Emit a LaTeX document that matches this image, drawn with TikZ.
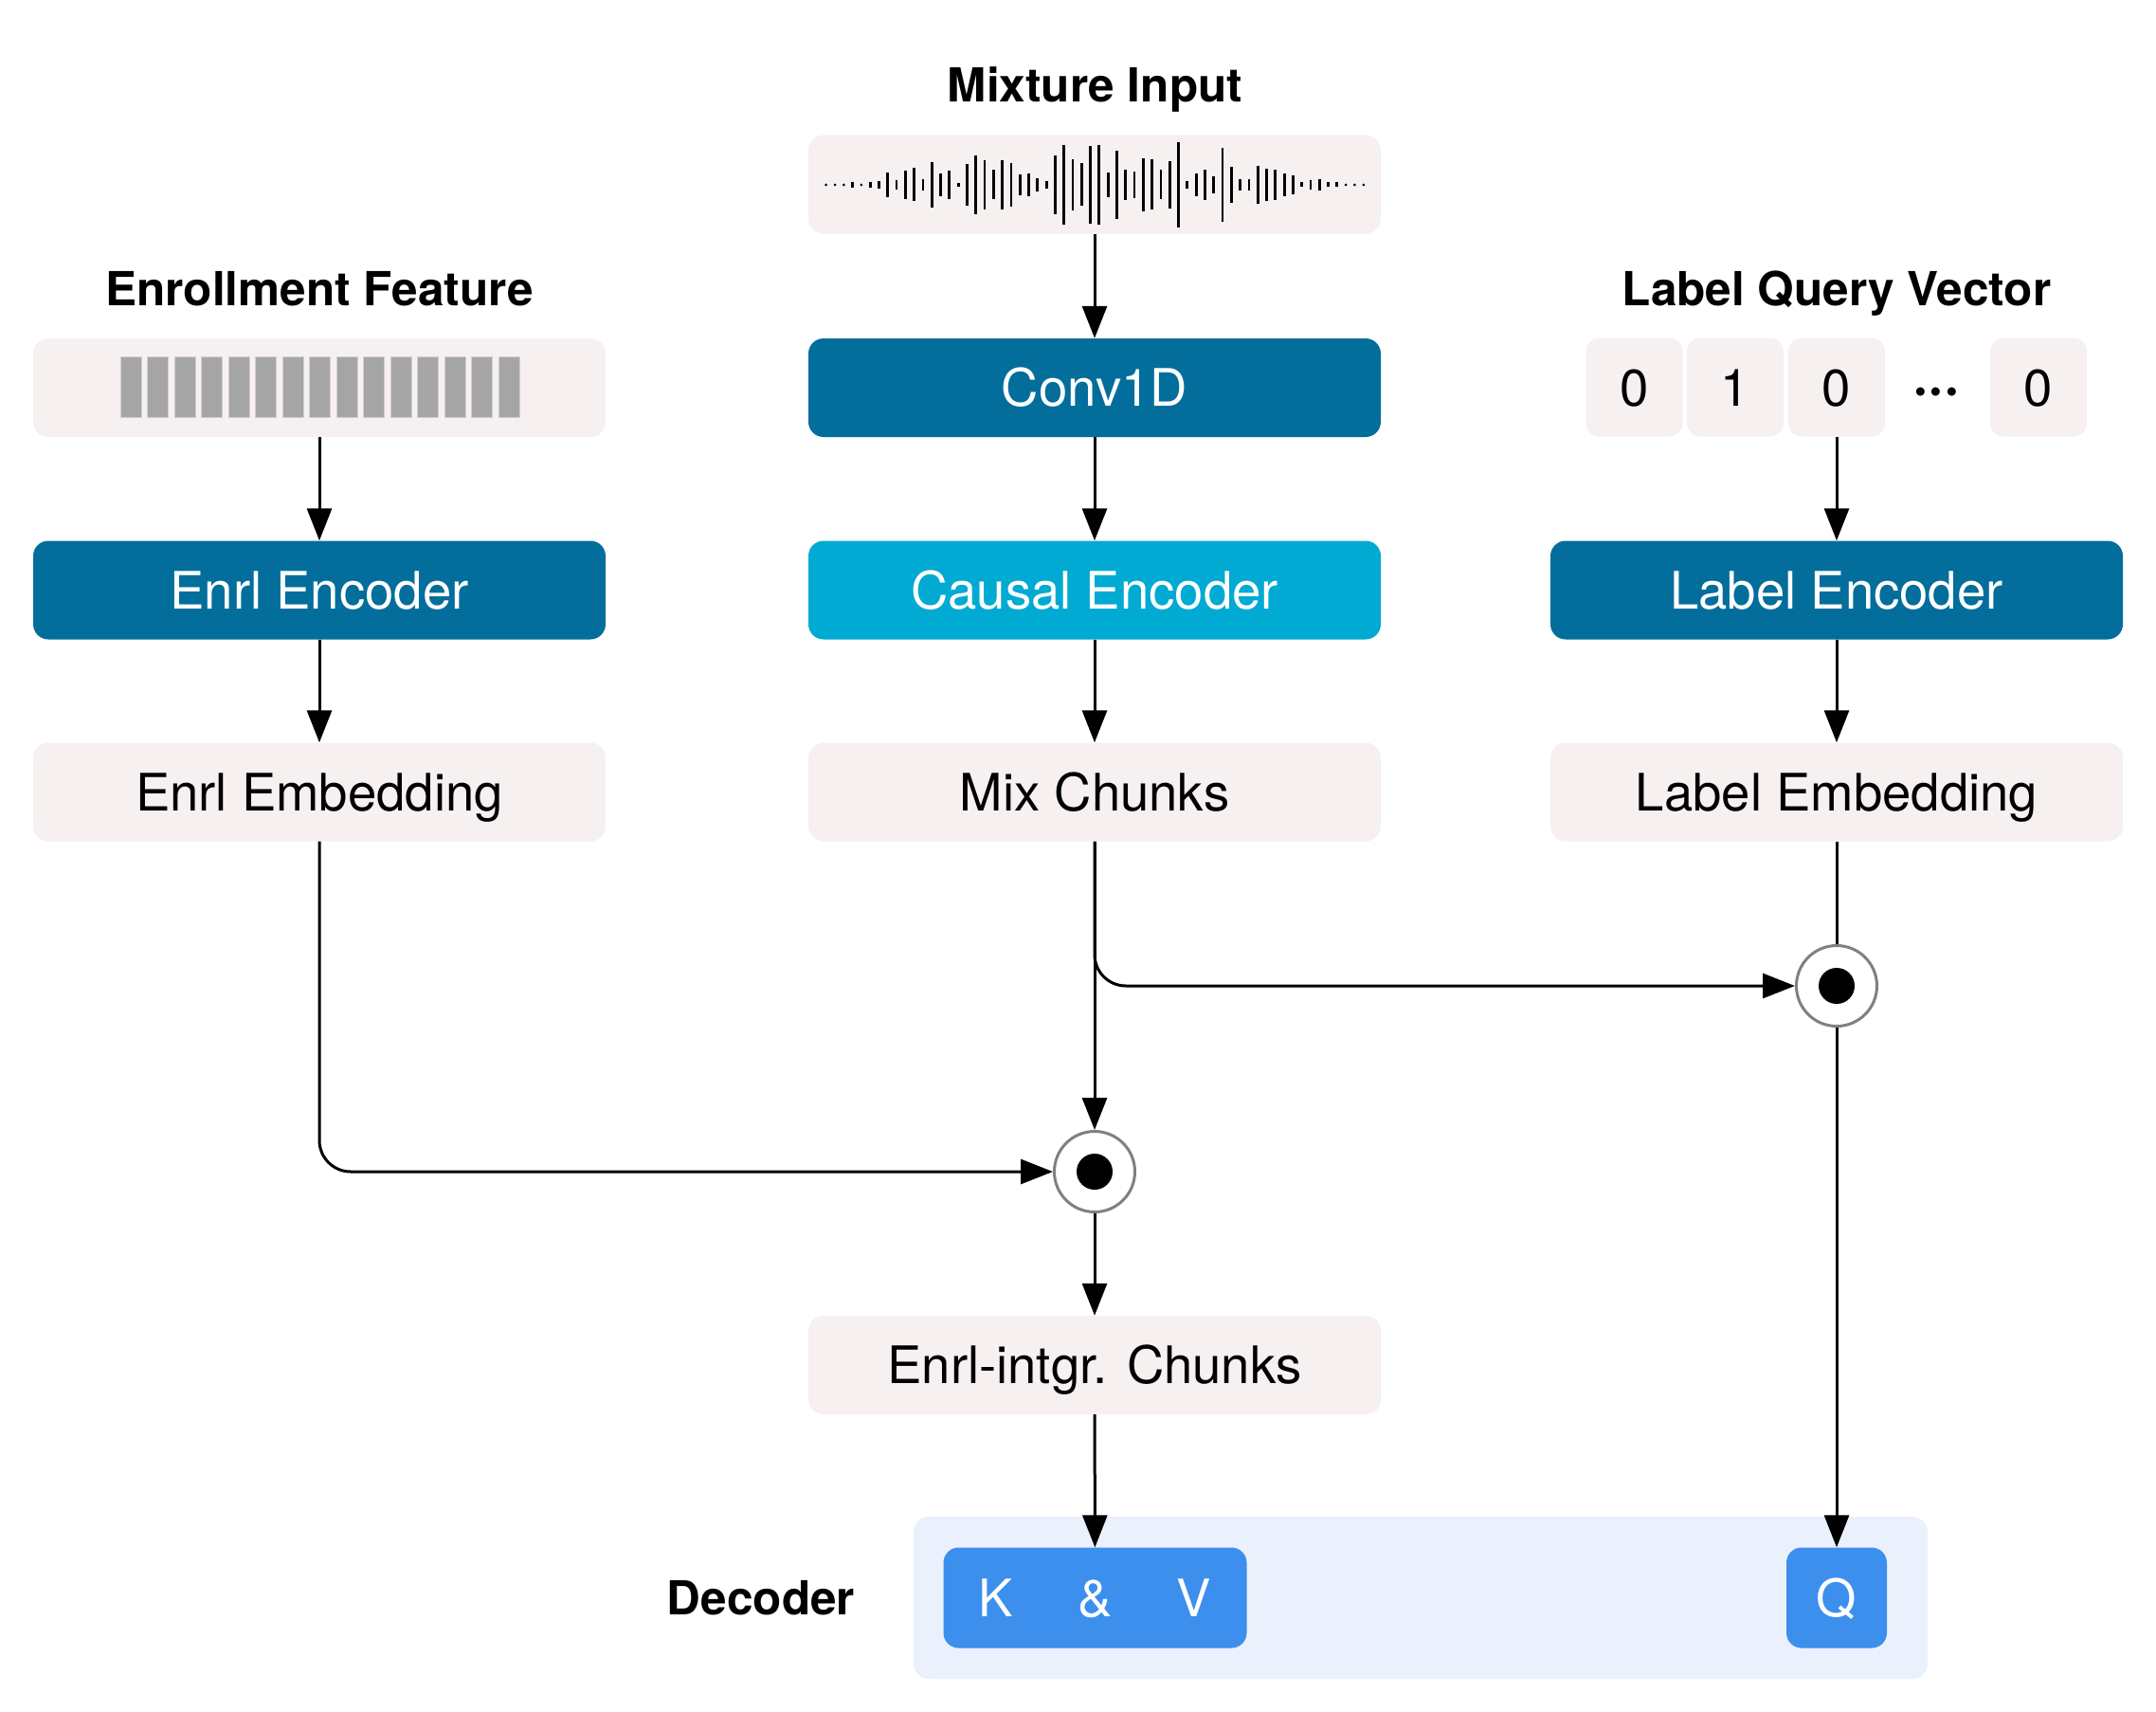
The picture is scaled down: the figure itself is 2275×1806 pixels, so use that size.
\documentclass[tikz,border=0pt]{standalone}
\usepackage{fontspec}
\setmainfont{TeX Gyre Heros}
\usetikzlibrary{arrows.meta,calc}
\definecolor{boxbg}{HTML}{F6F0F0}
\definecolor{darkblue}{HTML}{036E9B}
\definecolor{cyanblue}{HTML}{01AAD3}
\definecolor{decbg}{HTML}{EAF1FC}
\definecolor{kvblue}{HTML}{3D8FED}
\definecolor{ringgray}{HTML}{808080}
\definecolor{bargray}{HTML}{A5A5A5}
\definecolor{baredge}{HTML}{D3CFCF}
\begin{document}
\begin{tikzpicture}[x=1pt,y=-1pt,
  basebox/.style={rectangle, rounded corners=16pt, inner sep=0pt,
    minimum width=604pt, minimum height=104pt,
    font=\fontsize{54.5}{60}\selectfont, text height=39pt, text depth=0pt},
  lightbox/.style={basebox, fill=boxbg, text=black},
  darkbox/.style={basebox, fill=darkblue, text=white},
  cyanbox/.style={basebox, fill=cyanblue, text=white},
  cellbox/.style={basebox, fill=boxbg, minimum width=102pt, rounded corners=14pt},
  qbox/.style={basebox, fill=kvblue, text=white, minimum height=106pt},
  title/.style={inner sep=0pt, font=\fontsize{49.5}{56}\selectfont\bfseries, text height=35.6pt, text depth=0pt},
  ring/.style={circle, draw=ringgray, line width=3pt, fill=white, minimum size=85pt, inner sep=0pt},
  conn/.style={line width=3pt, line join=round},
  arr/.style={conn, -{Triangle[length=34pt,width=26pt]}}
]
\useasboundingbox (0,0) rectangle (2275,1806);

% titles
\node[title] (tmix) at (1155.5,90) {Mixture Input};
\node[title] (tenr) at (337,305) {Enrollment Feature};
\node[title] (tlab) at (1938,305) {Label Query Vector};

% waveform box
\node[lightbox] (wave) at (1155,194.5) {};
\foreach \h [count=\i from 0] in {0,0,0,3,0,3,4,12.8,5.3,15.3,17.5,5.8,23.8,12,14.7,2.3,21.7,30.8,25.7,15.5,26.2,22.8,10.7,12,6.7,4.2,30.8,42,27,22.5,40.8,42,12.8,36.2,16.2,13.8,28,26.5,15.5,24.7,45.3,4.2,12,16.3,8.8,39,19,6.3,5.8,20.3,16.8,16,11.7,9.7,2.5,5.3,5.7,2.5,2.5,0,0,0} {
  \pgfmathsetmacro\xx{871.7+\i*9.296}
  \ifdim\h pt=0pt
    \fill (\xx,195) circle (1.5pt);
  \else
    \draw[line width=2.8pt] (\xx,195-\h) -- (\xx,195+\h);
  \fi
}

% enrollment feature box
\node[lightbox] (enrf) at (337,409) {};
\foreach \k in {0,...,14}
  \filldraw[fill=bargray, draw=baredge, line width=0.8pt] ({127+\k*28.5},376) rectangle ++(22,64);

% label query cells
\node[cellbox] (c1) at (1724.5,408.5) {0};
\node[cellbox] (c2) at (1831,408.5) {1};
\node[cellbox] (c3) at (1938,408.5) {0};
\node[inner sep=0pt, font=\fontsize{60}{64}\selectfont\bfseries] (cdots) at (2043,419) {···};
\node[cellbox] (c4) at (2151,408.5) {0};

% main boxes
\node[darkbox] (conv) at (1155,409) {Conv1D};
\node[cyanbox] (causal) at (1155,622.5) {Causal Encoder};
\node[lightbox] (mix) at (1155,835.5) {Mix Chunks};

\node[darkbox] (enrenc) at (337,622.5) {Enrl Encoder};
\node[lightbox] (enremb) at (337,835.5) {Enrl Embedding};

\node[darkbox] (labenc) at (1938,622.5) {Label Encoder};
\node[lightbox] (labemb) at (1938,835.5) {Label Embedding};

\node[lightbox] (chunks) at (1155,1440) {Enrl-intgr. Chunks};

% decoder
\node[rectangle, rounded corners=16pt, fill=decbg, minimum width=1070pt, minimum height=171pt, inner sep=0pt] (dec) at (1499,1685.5) {};
\node[title] (tdec) at (803,1686) {Decoder};
\node[qbox, minimum width=320pt] (kv) at (1155.5,1685.5) {K\hspace{68pt}\&\hspace{68pt}V};
\node[qbox, minimum width=106pt] (q) at (1938,1685.5) {Q};

% product rings
\node[ring] (cR) at (1938,1040) {};
\fill (cR.center) circle (19pt);
\node[ring] (cL) at (1155,1236) {};
\fill (cL.center) circle (19pt);

% connectors
\draw[arr] (wave) -- (conv);
\draw[arr] (conv) -- (causal);
\draw[arr] (causal) -- (mix);
\draw[arr] (enrf) -- (enrenc);
\draw[arr] (enrenc) -- (enremb);
\draw[arr] (c3) -- (labenc);
\draw[arr] (labenc) -- (labemb);
\draw[arr] (mix) -- (cL);
\draw[arr, rounded corners=33pt] (mix.south) -- (mix.south |- cR.west) -- (cR.west);
\draw[conn] (labemb) -- (cR);
\draw[arr] (cR.south) -- (cR.south |- q.north);
\draw[arr, rounded corners=33pt] (enremb.south) -- (enremb.south |- cL.west) -- (cL.west);
\draw[arr] (cL) -- (chunks);
\draw[arr] (chunks) -- (kv);
\end{tikzpicture}
\end{document}
